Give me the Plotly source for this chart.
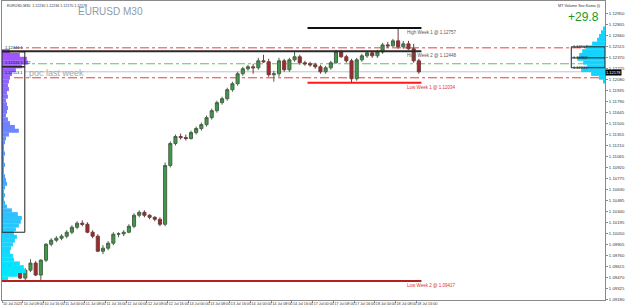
import plotly.graph_objects as go

# ---------------- data ----------------
# 2-hour bars, x = trading hours since 10 Jul 2023 00:00 (weekend removed)
bar_hour = list(range(1, 162, 2))
open_ = [1.09627, 1.09627, 1.09601, 1.09561, 1.09456, 1.09561, 1.09654, 1.09496, 1.09693, 1.09903,
         1.09956, 1.09982, 1.10009, 1.10061, 1.10127, 1.10180, 1.10166, 1.10061, 1.10009, 1.09811,
         1.09851, 1.09917, 1.10035, 1.10040, 1.10061, 1.10140, 1.10285, 1.10324, 1.10285, 1.10258,
         1.10232, 1.10166, 1.10942, 1.11232, 1.11324, 1.11310, 1.11297, 1.11376, 1.11429, 1.11481,
         1.11573, 1.11665, 1.11771, 1.11823, 1.11942, 1.12021, 1.12152, 1.12218, 1.12244, 1.12231,
         1.12323, 1.12310, 1.12139, 1.12152, 1.12323, 1.12205, 1.12336, 1.12376, 1.12297, 1.12284,
         1.12270, 1.12244, 1.12178, 1.12231, 1.12297, 1.12441, 1.12376, 1.12323, 1.12086, 1.12336,
         1.12389, 1.12428, 1.12389, 1.12441, 1.12533, 1.12520, 1.12586, 1.12507, 1.12547, 1.12481,
         1.12323]
high = [1.09667, 1.09667, 1.09640, 1.09588, 1.09588, 1.09706, 1.09680, 1.09706, 1.09917, 1.09982,
        1.10009, 1.10035, 1.10087, 1.10153, 1.10206, 1.10219, 1.10193, 1.10087, 1.10035, 1.09890,
        1.09943, 1.10061, 1.10061, 1.10087, 1.10166, 1.10311, 1.10350, 1.10350, 1.10298, 1.10272,
        1.10258, 1.10982, 1.11258, 1.11350, 1.11363, 1.11350, 1.11402, 1.11455, 1.11508, 1.11600,
        1.11692, 1.11797, 1.11850, 1.11968, 1.12047, 1.12178, 1.12244, 1.12270, 1.12284, 1.12362,
        1.12402, 1.12349, 1.12191, 1.12362, 1.12349, 1.12362, 1.12448, 1.12402, 1.12323, 1.12310,
        1.12297, 1.12270, 1.12257, 1.12323, 1.12468, 1.12468, 1.12402, 1.12349, 1.12362, 1.12415,
        1.12454, 1.12454, 1.12468, 1.12560, 1.12573, 1.12612, 1.12757, 1.12586, 1.12586, 1.12547,
        1.12349]
low = [1.09588, 1.09575, 1.09535, 1.09443, 1.09430, 1.09535, 1.09483, 1.09417, 1.09667, 1.09877,
       1.09930, 1.09956, 1.09982, 1.10035, 1.10101, 1.10140, 1.10048, 1.09982, 1.09798, 1.09772,
       1.09824, 1.09890, 1.09995, 1.10009, 1.10048, 1.10114, 1.10258, 1.10258, 1.10232, 1.10206,
       1.10140, 1.10140, 1.10916, 1.11205, 1.11284, 1.11271, 1.11284, 1.11350, 1.11402, 1.11455,
       1.11547, 1.11639, 1.11744, 1.11797, 1.11915, 1.11994, 1.12126, 1.12191, 1.12152, 1.12205,
       1.12297, 1.12113, 1.12047, 1.12113, 1.12178, 1.12178, 1.12310, 1.12270, 1.12257, 1.12244,
       1.12218, 1.12152, 1.12152, 1.12205, 1.12284, 1.12362, 1.12297, 1.12034, 1.12060, 1.12310,
       1.12362, 1.12362, 1.12362, 1.12415, 1.12494, 1.12507, 1.12481, 1.12481, 1.12468, 1.12297,
       1.12152]
close = [1.09627, 1.09601, 1.09561, 1.09456, 1.09561, 1.09654, 1.09496, 1.09693, 1.09903, 1.09956,
         1.09982, 1.10009, 1.10061, 1.10127, 1.10180, 1.10166, 1.10061, 1.10009, 1.09811, 1.09851,
         1.09917, 1.10035, 1.10040, 1.10061, 1.10140, 1.10285, 1.10324, 1.10285, 1.10258, 1.10232,
         1.10166, 1.10942, 1.11232, 1.11324, 1.11310, 1.11297, 1.11376, 1.11429, 1.11481, 1.11573,
         1.11665, 1.11771, 1.11823, 1.11942, 1.12021, 1.12152, 1.12218, 1.12244, 1.12231, 1.12323,
         1.12310, 1.12139, 1.12152, 1.12323, 1.12205, 1.12336, 1.12376, 1.12297, 1.12284, 1.12270,
         1.12244, 1.12178, 1.12231, 1.12297, 1.12441, 1.12376, 1.12323, 1.12086, 1.12336, 1.12389,
         1.12428, 1.12389, 1.12441, 1.12533, 1.12520, 1.12586, 1.12507, 1.12547, 1.12481, 1.12323,
         1.12178]

# last-week volume profile (left)
prev_levels = [1.1245, 1.1240, 1.1235, 1.1230, 1.1225, 1.1220, 1.1215, 1.1210, 1.1205, 1.1200,
               1.1195, 1.1190, 1.1185, 1.1180, 1.1175, 1.1170, 1.1165, 1.1160, 1.1155, 1.1150,
               1.1145, 1.1140, 1.1135, 1.1130, 1.1125, 1.1120, 1.1115, 1.1110, 1.1105, 1.1100,
               1.1095, 1.1090, 1.1085, 1.1080, 1.1075, 1.1070, 1.1065, 1.1060, 1.1055, 1.1050,
               1.1045, 1.1040, 1.1035, 1.1030, 1.1025, 1.1020, 1.1015, 1.1010, 1.1005, 1.1000,
               1.0995, 1.0990, 1.0985, 1.0980, 1.0975, 1.0970, 1.0965, 1.0960, 1.0955, 1.0950,
               1.0945]
prev_volume = [8, 18, 25, 26, 20, 14, 10, 8, 7, 6,
               7, 5, 6, 4, 5, 6, 5, 4, 6, 8,
               13, 17, 7, 4, 3, 2, 2, 3, 2, 2,
               3, 2, 2, 3, 4, 5, 3, 2, 3, 2,
               3, 5, 10, 16, 20, 19, 17, 14, 12, 15,
               13, 11, 9, 8, 11, 12, 18, 22, 24, 16,
               6]

# current-week volume profile (right)
cur_levels = [1.1275, 1.1270, 1.1265, 1.1260, 1.1255, 1.1250, 1.1245, 1.1240, 1.1235, 1.1230,
              1.1225, 1.1220, 1.1215, 1.1210, 1.1205]
cur_volume = [2, 4, 6, 8, 13, 19, 23, 26, 28, 22, 18, 24, 14, 6, 2]

high_week1, high_week2 = 1.12757, 1.12448
low_week1, low_week2 = 1.12034, 1.09417
prev_vah, prev_poc, prev_val = 1.12441, 1.12244, 1.10061
cur_vah, cur_poc, cur_val = 1.12507, 1.12362, 1.12231
red_levels = [1.12494, 1.12099]
green_level = 1.12284
bid = 1.12178

x_tickvals = [0, 8, 16, 24, 32, 40, 48, 56, 64, 72, 80, 88, 96, 104, 112, 120, 128, 136, 144, 152, 160]
x_ticktext = ["10 Jul 2023", "10 Jul 08:00", "10 Jul 16:00", "11 Jul 00:00", "11 Jul 08:00",
              "11 Jul 16:00", "12 Jul 00:00", "12 Jul 08:00", "12 Jul 16:00", "13 Jul 00:00",
              "13 Jul 08:00", "13 Jul 16:00", "14 Jul 00:00", "14 Jul 08:00", "14 Jul 16:00",
              "17 Jul 00:00", "17 Jul 08:00", "17 Jul 16:00", "18 Jul 00:00", "18 Jul 08:00",
              "18 Jul 16:00"]
y_tickvals = [1.12950, 1.12805, 1.12660, 1.12515, 1.12370, 1.12225, 1.12080, 1.11935, 1.11790,
              1.11645, 1.11500, 1.11355, 1.11210, 1.11065, 1.10920, 1.10775, 1.10630, 1.10485,
              1.10340, 1.10195, 1.10050, 1.09905, 1.09760, 1.09615, 1.09470, 1.09325, 1.09180]

# ---------------- styling helpers ----------------
def mix(c1, c2, t):
    return "rgb({},{},{})".format(*[int(round(a + (b - a) * t)) for a, b in zip(c1, c2)])

n = len(prev_levels)
prev_colors = [mix((165, 80, 255), (0, 235, 255), i / (n - 1)) for i in range(n)]

fig = go.Figure()

fig.add_trace(go.Bar(y=prev_levels, x=prev_volume, orientation="h", xaxis="x2", yaxis="y",
                     marker=dict(color=prev_colors, line=dict(width=0)), width=0.00053,
                     showlegend=False, hoverinfo="skip"))
fig.add_trace(go.Bar(y=cur_levels, x=cur_volume, orientation="h", xaxis="x3", yaxis="y",
                     marker=dict(color="#14d4ff", line=dict(width=0)), width=0.00053,
                     showlegend=False, hoverinfo="skip"))

fig.add_trace(go.Candlestick(
    x=bar_hour, open=open_, high=high, low=low, close=close,
    increasing=dict(line=dict(color="#4a634a", width=1), fillcolor="#3d9a48"),
    decreasing=dict(line=dict(color="#6e3c3c", width=1), fillcolor="#a82626"),
    whiskerwidth=0, showlegend=False, xaxis="x", yaxis="y"))

shapes = []
# full-width levels
for lv in red_levels:
    shapes.append(dict(type="line", xref="paper", yref="y", x0=0.02, x1=1, y0=lv, y1=lv,
                       line=dict(color="#e8413c", width=1, dash="dashdot"), layer="below"))
shapes.append(dict(type="line", xref="paper", yref="y", x0=0.0, x1=1, y0=green_level, y1=green_level,
                   line=dict(color="#5fc35f", width=1, dash="dashdot"), layer="below"))
shapes.append(dict(type="line", xref="paper", yref="y", x0=0.038, x1=1, y0=bid, y1=bid,
                   line=dict(color="#c4c4c4", width=1), layer="below"))
# weekly highs / lows
shapes.append(dict(type="line", xref="x", yref="y", x0=0, x1=162, y0=high_week2, y1=high_week2,
                   line=dict(color="#2a2a2a", width=2)))
shapes.append(dict(type="line", xref="x", yref="y", x0=118, x1=162, y0=high_week1, y1=high_week1,
                   line=dict(color="#111111", width=2)))
shapes.append(dict(type="line", xref="x", yref="y", x0=118, x1=162, y0=low_week1, y1=low_week1,
                   line=dict(color="#ff1a1a", width=2)))
shapes.append(dict(type="line", xref="x", yref="y", x0=0, x1=162, y0=low_week2, y1=low_week2,
                   line=dict(color="#b52020", width=2)))
# previous-week profile box + poc
shapes.append(dict(type="rect", xref="x2", yref="y", x0=0, x1=23, y0=prev_val, y1=prev_vah,
                   line=dict(color="#222222", width=1)))
shapes.append(dict(type="line", xref="x2", yref="y", x0=0, x1=23, y0=prev_poc, y1=prev_poc,
                   line=dict(color="#222222", width=1.5)))
# current-week profile box + poc
shapes.append(dict(type="rect", xref="x3", yref="y", x0=0, x1=34, y0=cur_val, y1=cur_vah,
                   line=dict(color="#222222", width=1)))
shapes.append(dict(type="line", xref="x3", yref="y", x0=0, x1=34, y0=cur_poc, y1=cur_poc,
                   line=dict(color="#222222", width=1)))

ann = []
ann.append(dict(xref="paper", yref="paper", x=0.005, y=0.997, xanchor="left", yanchor="top",
                text="EURUSD,M30  1.12230 1.12236 1.12170 1.12178", showarrow=False,
                font=dict(family="Arial", size=3.6, color="#333333")))
ann.append(dict(xref="paper", yref="paper", x=0.18, y=0.965, xanchor="center", yanchor="middle",
                text="EURUSD M30", showarrow=False, font=dict(family="Arial", size=10, color="#8f9ba7")))
ann.append(dict(xref="paper", yref="paper", x=0.997, y=0.997, xanchor="right", yanchor="top",
                text="MT Volume Sez.Kama (i)", showarrow=False,
                font=dict(family="Arial", size=3.8, color="#333333")))
ann.append(dict(xref="paper", yref="paper", x=0.993, y=0.948, xanchor="right", yanchor="middle",
                text="+29.8", showarrow=False, font=dict(family="Arial", size=12, color="#1e9a1e")))
ann.append(dict(xref="paper", yref="y", x=0.041, y=1.12160, xanchor="left", yanchor="middle",
                text="poc last week", showarrow=False, font=dict(family="Arial", size=9, color="#a8a8a8")))
# weekly labels
wk = [(high_week1, "High Week 1", "#555555"), (high_week2, "High Week 2", "#555555"),
      (low_week1, "Low Week 1", "#e03030"), (low_week2, "Low Week 2", "#e03030")]
for lv, name, col in wk:
    ann.append(dict(xref="x", yref="y", x=155.5, y=lv, xanchor="left", yanchor="top",
                    text="{} @ {:.5f}".format(name, lv), showarrow=False,
                    font=dict(family="Arial", size=4.5, color=col)))
# profile labels
for lv, txt in [(prev_vah, "{:.5f} 1".format(prev_vah)), (prev_poc, "{:.5f} 1.122".format(prev_poc)),
                (1.12113, "{:.5f} 1".format(1.12113))]:
    ann.append(dict(xref="paper", yref="y", x=0.001, y=lv, xanchor="left", yanchor="bottom",
                    text=txt, showarrow=False, font=dict(family="Arial", size=4, color="#222222")))
for lv in [cur_vah, cur_poc, cur_val]:
    ann.append(dict(xref="x3", yref="y", x=34, y=lv, xanchor="left", yanchor="middle",
                    text="{:.5f}".format(lv), showarrow=False,
                    font=dict(family="Arial", size=4, color="#222222")))
# bid box on price axis
ann.append(dict(xref="paper", yref="y", x=1.0, y=bid, xanchor="left", yanchor="top",
                yshift=2.5, text="{:.5f}".format(bid), showarrow=False, bgcolor="#000000", borderpad=0,
                font=dict(family="Arial", size=4, color="#ffffff")))

axis_line = "#8a8a8a"
fig.update_layout(
    width=625, height=308,
    margin=dict(l=2, r=15, t=0, b=8),
    paper_bgcolor="white", plot_bgcolor="white",
    showlegend=False, barmode="overlay", boxgap=0.3, boxgroupgap=0.15,
    shapes=shapes, annotations=ann,
    xaxis=dict(range=[0, 232.9], rangeslider=dict(visible=False), showgrid=False, zeroline=False,
               tickmode="array", tickvals=x_tickvals, ticktext=x_ticktext, tickangle=0,
               tickfont=dict(family="Arial", size=3.7, color="#333333"),
               ticks="outside", ticklen=2, tickcolor=axis_line,
               ticklabelposition="outside right",
               showline=True, linecolor=axis_line, linewidth=1, mirror=True),
    xaxis2=dict(overlaying="x", range=[0, 608], visible=False),
    xaxis3=dict(overlaying="x", range=[608, 0], visible=False),
    yaxis=dict(side="right", range=[1.09167, 1.13112], showgrid=False, zeroline=False,
               tickmode="array", tickvals=y_tickvals, tickformat=".5f",
               tickfont=dict(family="Arial", size=4.3, color="#333333"),
               ticks="outside", ticklen=2, tickcolor=axis_line,
               showline=True, linecolor=axis_line, linewidth=1, mirror=True),
)

fig.write_html("out.html")
